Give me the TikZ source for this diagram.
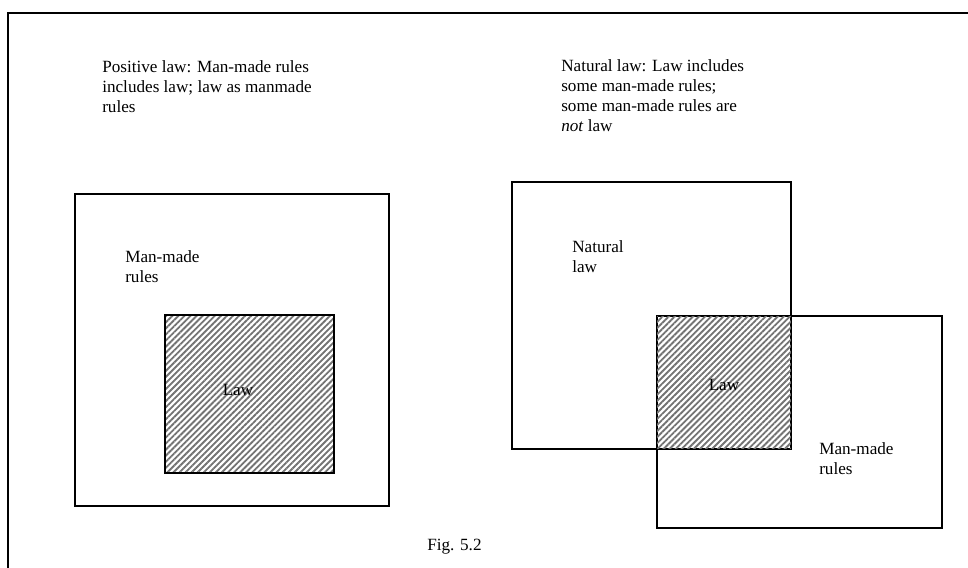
\documentclass[tikz,border=0pt]{standalone}
\usepackage{fontspec}
\setmainfont{Liberation Serif}
\usepackage{tikz}
\usetikzlibrary{positioning,fit,patterns.meta}

\begin{document}
\begin{tikzpicture}[x=0.7pt,y=0.7pt,font=\fontsize{12}{14}\selectfont,
    box/.style={draw,line width=0.9pt,inner sep=0pt},
    hatch/.style={inner sep=0pt,pattern={Lines[angle=45,distance=3pt,line width=1.3pt]},pattern color=black!55},
    txt/.style={anchor=north west,align=left,inner sep=0pt}]
    \useasboundingbox (0,0) rectangle (968,567);
    \clip (0,0) rectangle (968,567);
    % frame
    \draw[line width=1pt] (8,-10) -- (8,554) -- (980,554);
    % positive law
    \node[txt] (postitle) at (102,507) {Positive law: Man-made rules\\includes law; law as manmade\\rules};
    \node[hatch,fit={(166,251) (333,95)}] (poslaw) {};
    \node[box,fit={(75,373) (389,61)}] (posrules) {};
    \draw[line width=0.9pt] (poslaw.north west) rectangle (poslaw.south east);
    \node[txt] (posrulestxt) at (125,317) {Man-made\\rules};
    \node (poslawtxt) at (238,177) {Law};
    % natural law
    \node[txt] (nattitle) at (561,508) {Natural law: Law includes\\some man-made rules;\\some man-made rules are\\\textit{not} law};
    \node[box,fit={(512,385) (791,118)}] (natlaw) {};
    \node[box,fit={(657,251) (942,39)}] (natrules) {};
    \fill[hatch] (natrules.north west) rectangle (natlaw.south east);
    \draw[line width=0.9pt] (natlaw.north west) rectangle (natlaw.south east);
    \draw[line width=0.9pt] (natrules.north west) rectangle (natrules.south east);
    \node[txt] (natlawtxt) at (572,327) {Natural\\law};
    \node[txt] (natrulestxt) at (819,125) {Man-made\\rules};
    \node (natoverlap) at (724,182) {Law};
    % caption
    \node[txt] (caption) at (427,28) {Fig. 5.2};
\end{tikzpicture}
\end{document}
